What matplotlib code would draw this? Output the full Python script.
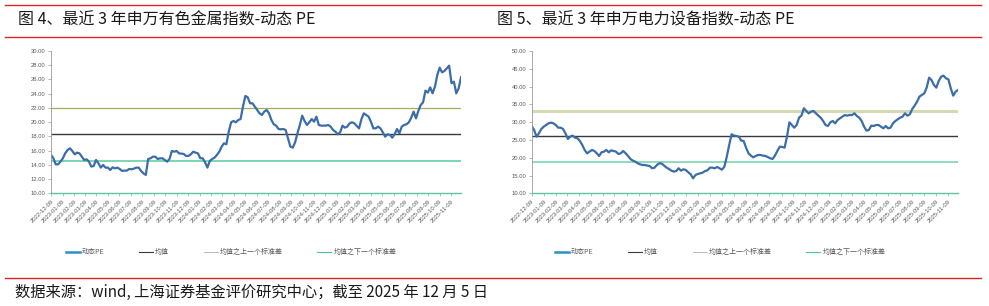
"""
Two panels: dynamic PE of the SW nonferrous metals and power equipment indices,
last 3 years, with mean and +/- 1 std lines.
"""

import matplotlib
matplotlib.use("Agg")
import matplotlib.pyplot as plt
from matplotlib.lines import Line2D
import pandas as pd

CJK = ["Noto Sans CJK SC", "DejaVu Sans"]
plt.rcParams["font.family"] = CJK

start, end = "2022-12-09", "2025-12-05"
month_ticks = pd.date_range("2022-12-09", periods=36, freq=pd.DateOffset(months=1))
tick_labels = [d.strftime("%Y-%m-%d") for d in month_ticks]

nonferrous_pe = [
    15.39, 14.92, 14.07, 14.07, 14.45, 14.92, 15.62, 16.09, 16.32, 15.95, 15.48, 15.71,
    15.62, 15.15, 14.68, 14.78, 14.45, 13.75, 13.84, 14.68, 14.22, 13.61, 13.98, 13.61,
    13.61, 13.28, 13.65, 13.51, 13.61, 13.42, 13.14, 13.19, 13.19, 13.42, 13.37, 13.47,
    13.61, 13.61, 13.14, 12.81, 12.58, 14.82, 14.92, 15.15, 15.15, 14.82, 14.92, 14.92,
    14.68, 14.45, 14.82, 15.95, 15.85, 15.95, 15.62, 15.57, 15.53, 15.25, 15.25, 15.48,
    15.85, 15.71, 15.62, 14.92, 14.92, 14.36, 13.61, 14.54, 14.82, 15.01, 15.39, 15.85,
    16.56, 17.03, 16.89, 18.67, 19.98, 20.16, 19.98, 20.30, 20.44, 22.18, 23.68, 23.49,
    22.65, 22.65, 22.18, 21.71, 21.24, 21.01, 21.48, 21.71, 21.24, 20.30, 19.70, 19.51,
    19.04, 18.99, 19.04, 18.90, 17.73, 16.56, 16.42, 17.17, 18.43, 19.60, 20.91, 20.16,
    19.60, 19.98, 20.44, 20.07, 20.77, 19.60, 19.51, 19.51, 19.51, 19.60, 19.37, 18.90,
    18.67, 18.29, 18.57, 19.51, 19.23, 19.37, 19.84, 19.98, 19.84, 19.46, 19.13, 20.44,
    21.24, 21.01, 20.77, 20.07, 19.13, 19.13, 19.37, 19.13, 18.57, 17.96, 18.29, 18.20,
    17.82, 18.29, 19.04, 18.43, 19.37, 19.60, 19.70, 19.98, 20.63, 21.48, 20.54, 21.57,
    22.41, 22.79, 24.43, 24.15, 24.89, 24.05, 24.99, 26.63, 27.66, 27.00, 27.19, 27.56,
    27.94, 25.46, 25.69, 24.05, 24.75, 26.30,
]
nonferrous_mean, nonferrous_up, nonferrous_down = 18.29, 21.95, 14.54

power_pe = [
    28.92, 27.80, 25.93, 26.86, 28.08, 28.74, 29.20, 29.67, 29.86, 29.67, 29.20, 28.45,
    28.45, 28.08, 26.86, 25.27, 25.93, 26.21, 25.64, 25.46, 24.71, 23.58, 22.18, 21.24,
    21.71, 22.18, 21.90, 21.24, 20.49, 21.52, 21.71, 22.18, 21.52, 22.08, 21.90, 21.71,
    21.05, 21.24, 21.90, 21.24, 20.49, 19.65, 19.18, 18.90, 18.43, 18.15, 17.96, 17.96,
    17.78, 17.68, 17.03, 17.21, 17.96, 18.43, 18.34, 17.78, 17.21, 16.84, 16.37, 16.09,
    16.28, 17.03, 16.37, 16.74, 16.56, 15.90, 15.34, 14.22, 15.15, 15.43, 15.62, 15.81,
    16.28, 16.46, 17.21, 17.21, 17.03, 17.40, 17.03, 16.65, 17.49, 20.30, 23.58, 26.58,
    26.21, 26.11, 25.93, 24.80, 24.71, 22.83, 21.24, 20.59, 20.12, 20.49, 20.77, 20.77,
    20.59, 20.49, 20.21, 19.84, 19.65, 20.59, 21.90, 23.11, 23.02, 22.83, 25.93, 29.95,
    29.20, 28.45, 29.20, 31.26, 31.83, 33.89, 33.14, 32.48, 32.95, 33.14, 32.48, 31.83,
    31.26, 30.33, 29.20, 28.92, 29.95, 30.33, 29.67, 30.61, 31.08, 31.55, 32.01, 31.83,
    32.01, 32.01, 32.48, 31.73, 31.26, 30.33, 28.74, 27.61, 27.80, 29.02, 28.92, 29.20,
    29.20, 28.74, 28.27, 28.92, 28.27, 28.45, 29.67, 30.33, 30.80, 31.26, 31.55, 32.48,
    31.83, 32.20, 33.70, 34.64, 35.76, 37.17, 37.63, 38.10, 39.70, 42.51, 41.85, 40.44,
    39.70, 41.57, 42.79, 43.07, 42.32, 42.04, 39.51, 37.45, 38.57, 39.04,
]
power_mean, power_up, power_down = 26.11, 33.14, 18.90

legend_labels = ["动态PE", "均值", "均值之上一个标准差", "均值之下一个标准差"]

fig = plt.figure(figsize=(9.89, 3.06), dpi=100)


def panel(rect, values, mean, up, down, yticks, up_style, down_style, legend_x):
    ax = fig.add_axes(rect)
    dates = pd.date_range(start, end, periods=len(values))
    ax.axhline(up, **up_style)
    ax.axhline(mean, color="#3a3a3a", lw=1.0)
    ax.axhline(down, **down_style)
    ax.plot(dates, values, color="#3b6da8", lw=1.6)
    ax.set_xlim(pd.Timestamp(start), pd.Timestamp(end))
    ax.set_ylim(yticks[0], yticks[-1])
    ax.set_yticks(yticks)
    ax.set_yticklabels([f"{t:.2f}" for t in yticks], family="Liberation Sans",
                       fontsize=4.2, color="#595959")
    ax.set_xticks(month_ticks)
    ax.set_xticklabels(tick_labels, rotation=45, ha="right", va="top",
                       rotation_mode="anchor", family="Liberation Sans",
                       fontsize=4.2, color="#595959")
    ax.tick_params(axis="y", length=2, width=0.5, color="#9a9a9a", pad=2)
    ax.tick_params(axis="x", length=2, width=0.5, color="#5cc59a", pad=2)
    for s in ["top", "right"]:
        ax.spines[s].set_visible(False)
    ax.spines["left"].set_color("#9a9a9a")
    ax.spines["left"].set_linewidth(0.6)
    ax.spines["bottom"].set_color("#5cc59a")
    ax.spines["bottom"].set_linewidth(1.0)

    handles = [
        Line2D([], [], color="#2f8fc8", lw=1.8),
        Line2D([], [], color="#3a3a3a", lw=0.8),
        Line2D([], [], color="#b0b0b0", lw=0.6),
        Line2D([], [], color="#4cc79a", lw=0.8),
    ]
    fig.legend(handles, legend_labels, loc="center", bbox_to_anchor=(legend_x, 0.176),
               ncol=4, frameon=False, handlelength=2.0, handletextpad=0.3,
               columnspacing=5.0, prop={"family": CJK, "size": 5},
               labelcolor="#595959")
    return ax


panel([51 / 989, 1 - 193.3 / 306, 410 / 989, 142.3 / 306],
      nonferrous_pe, nonferrous_mean, nonferrous_up, nonferrous_down,
      list(range(10, 31, 2)),
      dict(color="#a4ad5a", lw=0.9), dict(color="#62cfa3", lw=1.2), 231 / 989)
panel([531.7 / 989, 1 - 193.3 / 306, 426.3 / 989, 142.3 / 306],
      power_pe, power_mean, power_up, power_down,
      list(range(10, 51, 5)),
      dict(color="#d8d8b4", lw=2.2), dict(color="#8fdcbd", lw=1.4), 720 / 989)

# header / footer rules and text
red = "#e02424"
for y in [1 - 5 / 306, 1 - 37 / 306, 1 - 278 / 306]:
    fig.add_artist(Line2D([5 / 989, 981 / 989], [y, y], color=red, lw=1.0))

fig.text(18 / 989, 1 - 20 / 306, "图 4、最近 3 年申万有色金属指数-动态 PE",
         fontsize=11.5, va="center", ha="left", color="#1a1a1a")
fig.text(497 / 989, 1 - 20 / 306, "图 5、最近 3 年申万电力设备指数-动态 PE",
         fontsize=11.5, va="center", ha="left", color="#1a1a1a")
fig.text(15 / 989, 1 - 292 / 306,
         "数据来源：wind, 上海证券基金评价研究中心；截至 2025 年 12 月 5 日",
         fontsize=11, style="italic", va="center", ha="left", color="#1a1a1a")

fig.savefig("out.png", dpi=100)
